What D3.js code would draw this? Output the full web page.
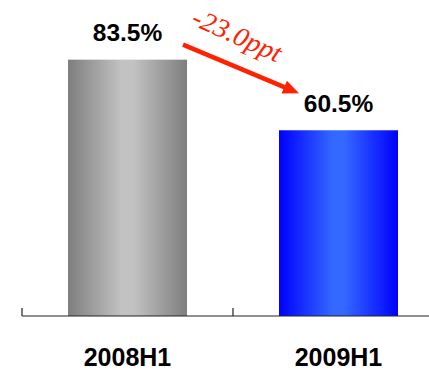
<!DOCTYPE html>
<html>
<head>
<meta charset="utf-8">
<script src="https://cdn.jsdelivr.net/npm/d3@7"></script>
<style>
  html, body { margin: 0; padding: 0; background: #fff; }
  svg { display: block; }
</style>
</head>
<body>
<svg id="chart" width="429" height="370"></svg>
<script>
// Half-year share, in percent
const categories = ["2008H1", "2009H1"];
const values = [83.5, 60.5];
const valueLabels = ["83.5%", "60.5%"];
const changeLabel = "-23.0ppt";

const width = 429, height = 370;
const svg = d3.select("#chart");

const x = d3.scaleBand()
  .domain(categories)
  .range([22, 444])
  .paddingInner(0)
  .paddingOuter(0);

const y = d3.scaleLinear()
  .domain([0, 100])
  .range([316, 9]);

// Horizontal gradients for the two bars
const defs = svg.append("defs");
const gradients = [
  { id: "gGray", edge: "#7e7e7e", mid: "#c2c2c2" },
  { id: "gBlue", edge: "#0000ff", mid: "#3468ff" }
];
gradients.forEach(g => {
  const lg = defs.append("linearGradient")
    .attr("id", g.id).attr("x1", "0%").attr("x2", "100%").attr("y1", "0%").attr("y2", "0%");
  lg.append("stop").attr("offset", "0%").attr("stop-color", g.edge);
  lg.append("stop").attr("offset", "45%").attr("stop-color", g.mid);
  lg.append("stop").attr("offset", "55%").attr("stop-color", g.mid);
  lg.append("stop").attr("offset", "100%").attr("stop-color", g.edge);
});

const barWidth = 119;
const cx = d => x(d) + x.bandwidth() / 2;

svg.selectAll("rect.bar")
  .data(categories)
  .join("rect")
  .attr("class", "bar")
  .attr("x", d => cx(d) - barWidth / 2)
  .attr("width", barWidth)
  .attr("y", (d, i) => y(values[i]))
  .attr("height", (d, i) => y(0) - y(values[i]))
  .attr("fill", (d, i) => `url(#${gradients[i].id})`);

// Baseline axis with upward ticks at category boundaries
svg.append("line")
  .attr("x1", 22).attr("x2", width)
  .attr("y1", y(0)).attr("y2", y(0))
  .attr("stroke", "#222").attr("stroke-width", 1.2);

svg.selectAll("line.tick")
  .data(categories)
  .join("line")
  .attr("class", "tick")
  .attr("x1", d => x(d)).attr("x2", d => x(d))
  .attr("y1", y(0) - 8).attr("y2", y(0))
  .attr("stroke", "#222").attr("stroke-width", 1.2);

// Category labels
svg.selectAll("text.cat")
  .data(categories)
  .join("text")
  .attr("class", "cat")
  .attr("x", d => cx(d))
  .attr("y", 366)
  .attr("text-anchor", "middle")
  .attr("font-family", "Liberation Sans, Arial, sans-serif")
  .attr("font-weight", "bold")
  .attr("font-size", 25)
  .attr("fill", "#000")
  .text(d => d);

// Value labels above bars
svg.selectAll("text.val")
  .data(categories)
  .join("text")
  .attr("class", "val")
  .attr("x", d => cx(d))
  .attr("y", (d, i) => y(values[i]) - 18.5)
  .attr("text-anchor", "middle")
  .attr("font-family", "Liberation Sans, Arial, sans-serif")
  .attr("font-weight", "bold")
  .attr("font-size", 24.5)
  .attr("fill", "#000")
  .text((d, i) => valueLabels[i]);

// Change arrow between the two values
const red = "#ff2200";
const ax0 = 183, ay0 = y(values[0]) - 15;
const ax1 = 299, ay1 = y(values[1]) - 37;
const ang = Math.atan2(ay1 - ay0, ax1 - ax0);
const headLen = 16, headHalf = 7;
const bx = ax1 - headLen * Math.cos(ang), by = ay1 - headLen * Math.sin(ang);

svg.append("line")
  .attr("x1", ax0).attr("y1", ay0)
  .attr("x2", bx + 2 * Math.cos(ang)).attr("y2", by + 2 * Math.sin(ang))
  .attr("stroke", red).attr("stroke-width", 4.5);

svg.append("path")
  .attr("d", d3.line()([
    [ax1, ay1],
    [bx + headHalf * Math.sin(ang), by - headHalf * Math.cos(ang)],
    [bx - headHalf * Math.sin(ang), by + headHalf * Math.cos(ang)]
  ]) + "Z")
  .attr("fill", red);

svg.append("text")
  .attr("transform", "translate(190,24) rotate(24) scale(1.05,1)")
  .attr("font-family", "Liberation Serif, Times New Roman, serif")
  .attr("font-style", "italic")
  .attr("font-size", 27)
  .attr("fill", red)
  .text(changeLabel);
</script>
</body>
</html>
